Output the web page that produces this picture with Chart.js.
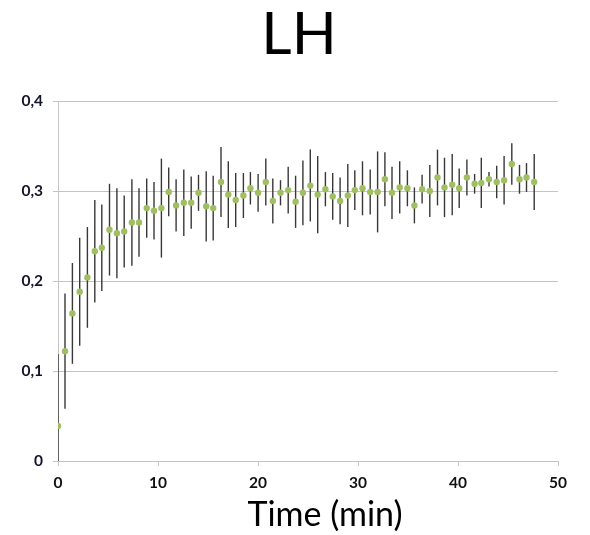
<!DOCTYPE html>
<html>
<head>
<meta charset="utf-8">
<script src="https://cdn.jsdelivr.net/npm/chart.js@4.4.1/dist/chart.umd.min.js"></script>
<style>
  html, body { margin: 0; padding: 0; background: #fff; }
  #wrap { width: 590px; height: 535px; }
</style>
</head>
<body>
<div id="wrap"><canvas id="lhChart" width="590" height="535"></canvas></div>
<script>
// sampling times (min)
const times = [
    0.0, 0.7, 1.44, 2.17, 2.94, 3.68, 4.38, 5.15, 5.89, 6.62,
    7.39, 8.1, 8.87, 9.6, 10.34, 11.07, 11.81, 12.58, 13.32, 14.05,
    14.82, 15.52, 16.3, 17.03, 17.77, 18.54, 19.24, 20.01, 20.78, 21.48,
    22.25, 23.02, 23.76, 24.49, 25.23, 25.97, 26.74, 27.47, 28.21, 28.98,
    29.68, 30.45, 31.22, 31.96, 32.69, 33.4, 34.17, 34.94, 35.64, 36.41,
    37.18, 37.95, 38.65, 39.42, 40.12, 40.89, 41.66, 42.33, 43.1, 43.87,
    44.61, 45.38, 46.15, 46.85, 47.62
];
// LH mean values
const lhMean = [
    0.039, 0.122, 0.164, 0.188, 0.204, 0.233, 0.237, 0.257, 0.253, 0.255,
    0.265, 0.265, 0.281, 0.278, 0.281, 0.299, 0.284, 0.287, 0.287, 0.298,
    0.283, 0.281, 0.310, 0.296, 0.290, 0.295, 0.303, 0.298, 0.310, 0.289,
    0.298, 0.301, 0.288, 0.298, 0.306, 0.296, 0.302, 0.294, 0.289, 0.295,
    0.301, 0.303, 0.299, 0.299, 0.313, 0.298, 0.304, 0.303, 0.284, 0.302,
    0.300, 0.315, 0.304, 0.307, 0.303, 0.315, 0.308, 0.309, 0.313, 0.310,
    0.312, 0.330, 0.313, 0.315, 0.310
];
// error bar half-lengths
const lhErr = [
    0.080, 0.064, 0.056, 0.060, 0.056, 0.057, 0.048, 0.051, 0.050, 0.040,
    0.048, 0.038, 0.033, 0.032, 0.055, 0.027, 0.029, 0.037, 0.029, 0.020,
    0.039, 0.036, 0.039, 0.037, 0.030, 0.025, 0.018, 0.021, 0.026, 0.025,
    0.014, 0.026, 0.029, 0.036, 0.040, 0.043, 0.019, 0.026, 0.026, 0.035,
    0.022, 0.030, 0.025, 0.045, 0.030, 0.029, 0.029, 0.020, 0.020, 0.016,
    0.029, 0.031, 0.033, 0.034, 0.022, 0.020, 0.011, 0.028, 0.008, 0.018,
    0.027, 0.023, 0.016, 0.016, 0.031
];
const xTicks = [0, 10, 20, 30, 40, 50];
const yTicks = [0, 0.1, 0.2, 0.3, 0.4];

const points = times.map((t, i) => ({ x: t, y: lhMean[i] }));

// vertical error bars, drawn under the points
const errorBars = {
    id: 'errorBars',
    beforeDatasetsDraw(chart) {
        const ctx = chart.ctx;
        const xs = chart.scales.x, ys = chart.scales.y;
        const area = chart.chartArea;
        ctx.save();
        ctx.beginPath();
        ctx.rect(area.left, area.top, area.right - area.left, area.bottom - area.top);
        ctx.clip();
        ctx.strokeStyle = '#383838';
        ctx.lineWidth = 1.4;
        times.forEach((t, i) => {
            const px = xs.getPixelForValue(t);
            ctx.beginPath();
            ctx.moveTo(px, ys.getPixelForValue(lhMean[i] + lhErr[i]));
            ctx.lineTo(px, ys.getPixelForValue(lhMean[i] - lhErr[i]));
            ctx.stroke();
        });
        ctx.restore();
    }
};

// chart title and x axis title, placed like the original (not centred on the plot)
const texts = {
    id: 'texts',
    afterDraw(chart) {
        const ctx = chart.ctx;
        ctx.save();
        ctx.fillStyle = '#000';
        ctx.textAlign = 'center';
        ctx.textBaseline = 'middle';
        ctx.font = '59px Lato';
        ctx.fillText('LH', 299, 35);
        ctx.font = '34px Lato';
        ctx.fillText('Time (min)', 325, 515);
        ctx.restore();
    }
};

const ctx = document.getElementById('lhChart').getContext('2d');
const lhChart = new Chart(ctx, {
    type: 'scatter',
    data: {
        datasets: [{
            label: 'LH',
            data: points,
            backgroundColor: '#a0bf62',
            borderWidth: 0,
            pointRadius: 3.2
        }]
    },
    options: {
        responsive: false,
        animation: false,
        layout: { padding: { left: 0, right: 32, top: 101, bottom: 0 } },
        plugins: {
            legend: { display: false },
            tooltip: { enabled: false },
            title: { display: false }
        },
        scales: {
            x: {
                type: 'linear',
                min: 0,
                max: 50,
                afterBuildTicks: s => { s.ticks = xTicks.map(v => ({ value: v })); },
                afterFit: s => { s.height = 74; },
                grid: { drawOnChartArea: false, drawTicks: true, tickLength: 5, color: '#c4c4c4' },
                border: { color: '#c4c4c4' },
                ticks: { color: '#111', padding: 8, font: { family: 'Lato', size: 15.5, weight: 'bold' }, maxRotation: 0 }
            },
            y: {
                min: 0,
                max: 0.4,
                afterBuildTicks: s => { s.ticks = yTicks.map(v => ({ value: v })); },
                afterFit: s => { s.width = 58; },
                grid: { color: '#c4c4c4', tickLength: 5 },
                border: { color: '#c4c4c4' },
                ticks: {
                    color: '#14142a',
                    padding: 10,
                    font: { family: 'Lato', size: 15.5, weight: 'bold' },
                    callback: v => String(Math.round(v * 10) / 10).replace('.', ',')
                }
            }
        }
    },
    plugins: [errorBars, texts]
});
</script>
</body>
</html>
